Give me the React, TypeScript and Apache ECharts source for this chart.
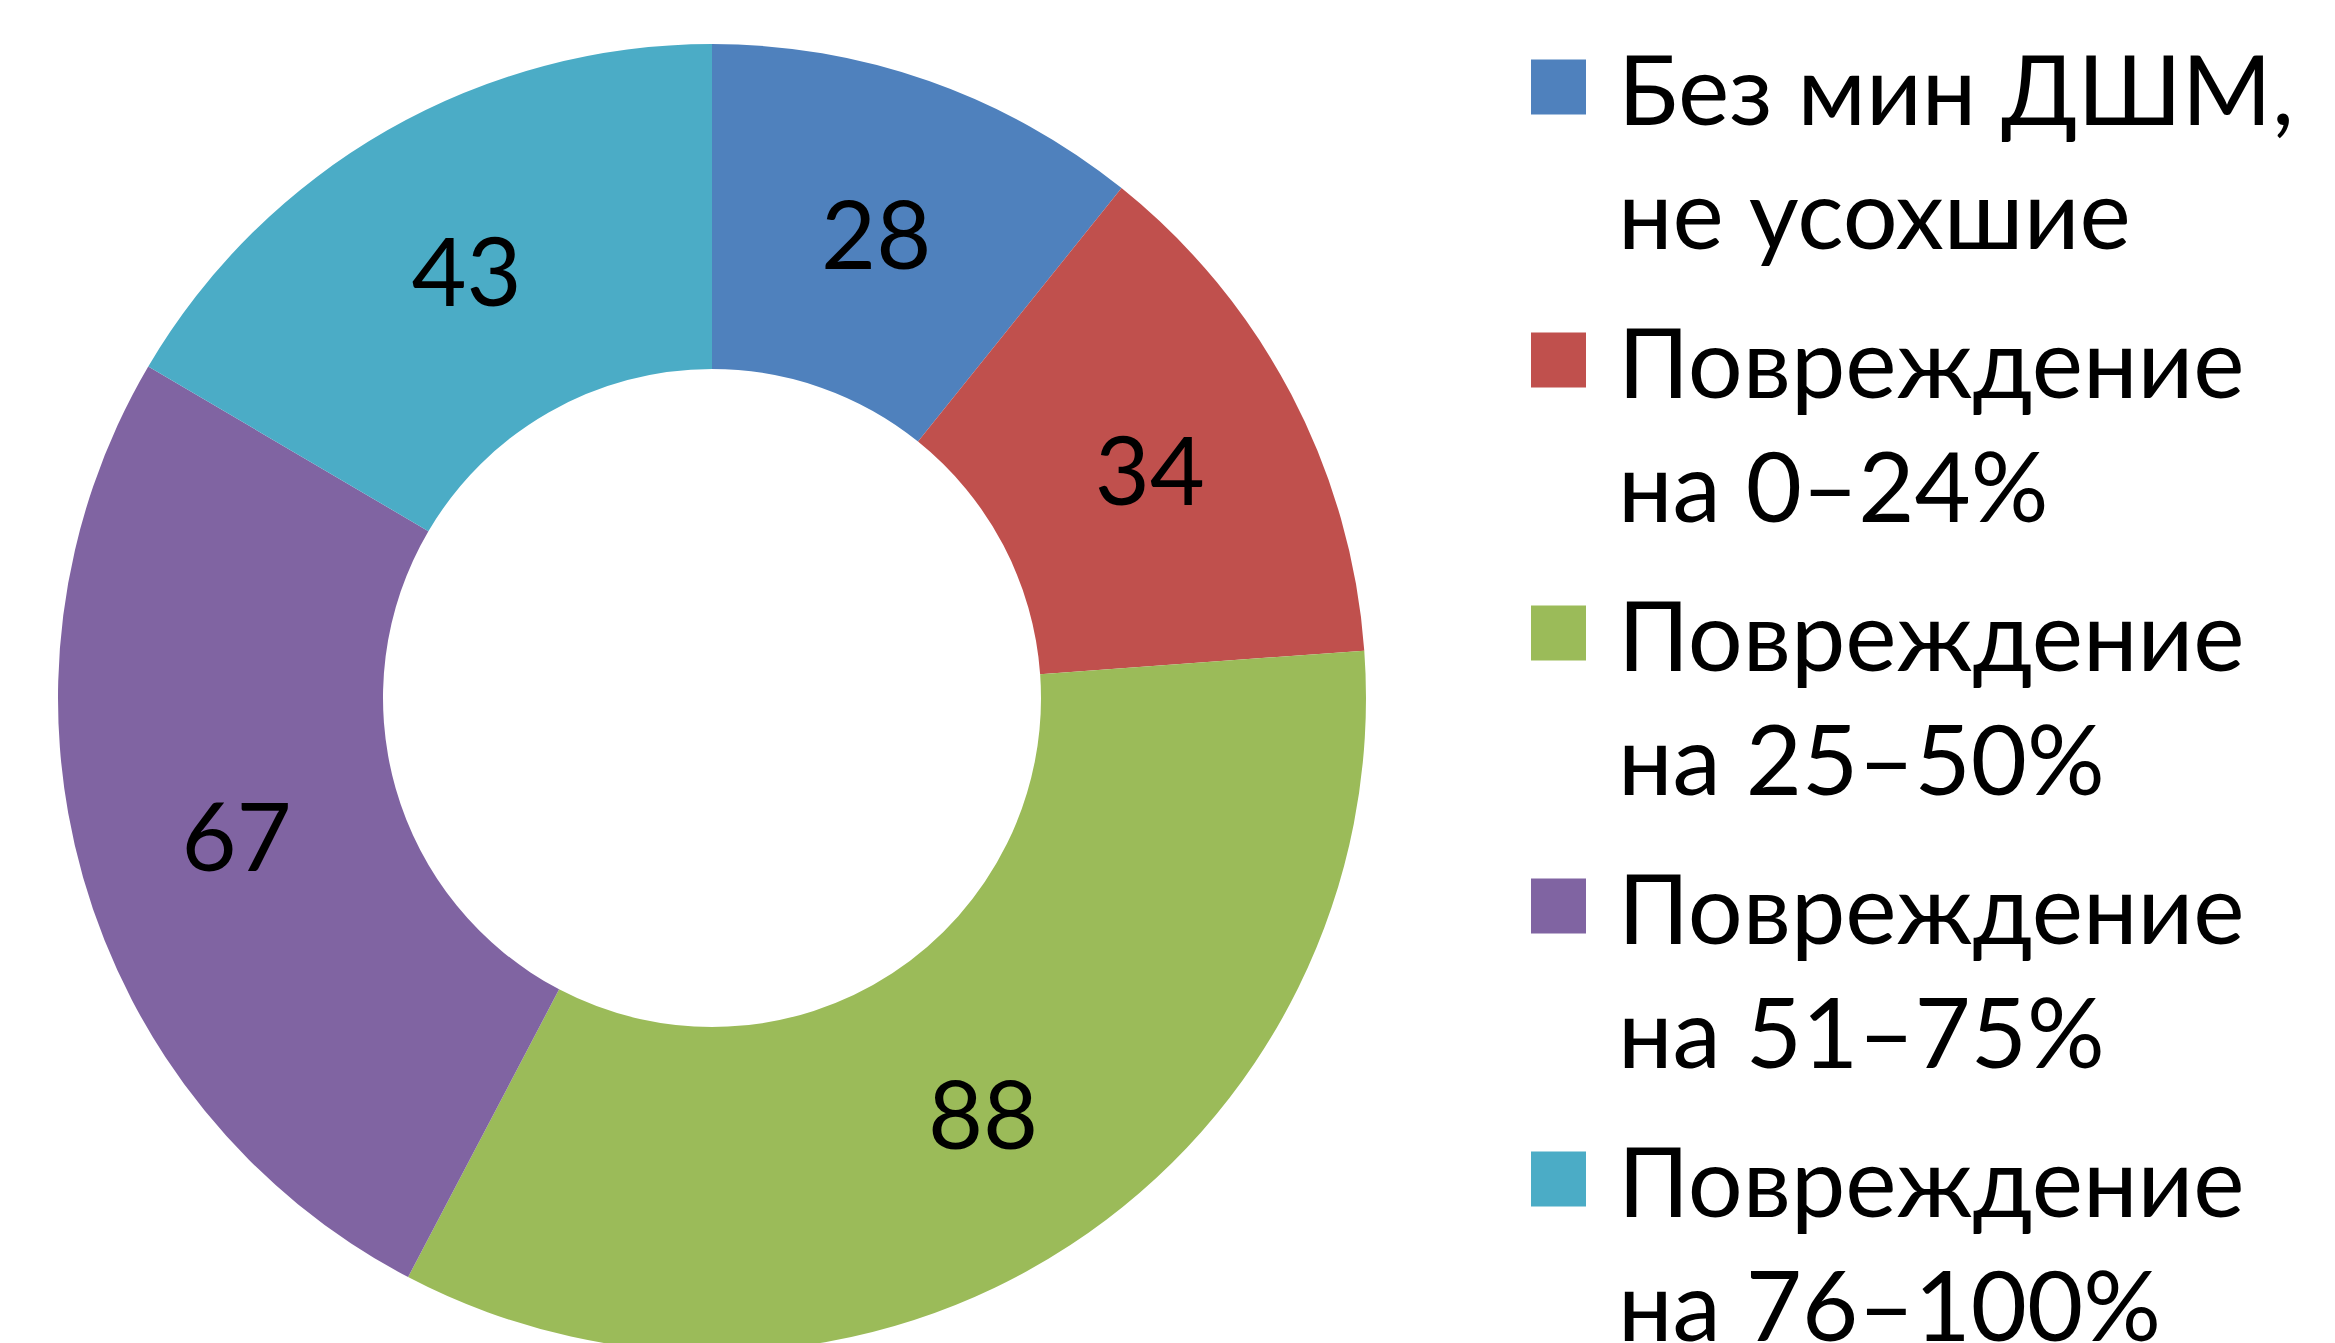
import React, { useEffect, useRef } from "react";
import * as echarts from "echarts";

const categories = [
  "Без мин ДШМ,\nне усохшие",
  "Повреждение\nна 0–24%",
  "Повреждение\nна 25–50%",
  "Повреждение\nна 51–75%",
  "Повреждение\nна 76–100%",
];
const values = [28, 34, 88, 67, 43];
const colors = ["#4F81BD", "#C0504D", "#9BBB59", "#8064A2", "#4BACC6"];

const FONT = "Lato, 'Noto Sans', sans-serif";

export default function App() {
  const ref = useRef<HTMLDivElement>(null);
  useEffect(() => {
    document.body.style.margin = "0";
    const chart = echarts.init(ref.current!, null, { renderer: "svg" });
    const legendX = 1531;
    const textX = 1618;
    const firstY = 87;
    const itemStep = 273;
    const lineStep = 124;
    const graphics: any[] = [];
    categories.forEach((name, i) => {
      const cy = firstY + i * itemStep;
      graphics.push({
        type: "rect",
        shape: { x: legendX, y: cy - 27.5, width: 55, height: 55 },
        style: { fill: colors[i] },
      });
      name.split("\n").forEach((line, j) => {
        graphics.push({
          type: "text",
          x: textX,
          y: cy + j * lineStep,
          style: {
            text: line,
            fontSize: 97,
            fontFamily: FONT,
            fill: "#000",
            verticalAlign: "middle",
            align: "left",
          },
        });
      });
    });
    chart.setOption({
      animation: false,
      backgroundColor: "#fff",
      color: colors,
      graphic: graphics,
      series: [
        {
          type: "pie",
          center: [712, 698],
          radius: [329, 654],
          startAngle: 90,
          clockwise: true,
          avoidLabelOverlap: false,
          itemStyle: { borderWidth: 0 },
          label: {
            show: true,
            position: "inside",
            formatter: "{c}",
            fontSize: 95,
            fontFamily: FONT,
            color: "#000",
          },
          labelLine: { show: false },
          emphasis: { disabled: true },
          data: categories.map((c, i) => ({ name: c, value: values[i] })),
        },
      ],
    });
    return () => chart.dispose();
  }, []);
  return (
    <div
      ref={ref}
      style={{ position: "absolute", left: 0, top: 0, width: 2335, height: 1343 }}
    />
  );
}
